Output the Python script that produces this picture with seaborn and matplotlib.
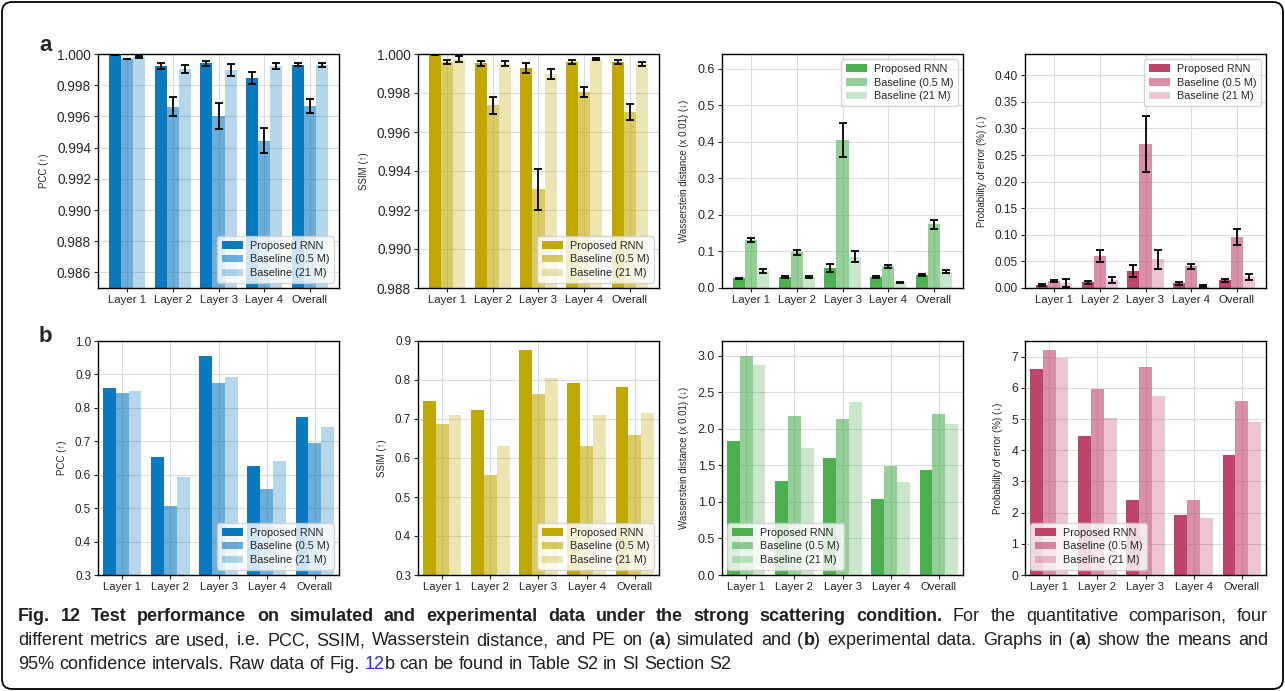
import numpy as np
import pandas as pd
import matplotlib
matplotlib.use('Agg')
import matplotlib.pyplot as plt
import seaborn as sns
from matplotlib import font_manager
from matplotlib.patches import FancyBboxPatch

layers = ['Layer 1', 'Layer 2', 'Layer 3', 'Layer 4', 'Overall']
models = ['Proposed RNN', 'Baseline (0.5 M)', 'Baseline (21 M)']

# (a) simulated data - means and 95% CI half widths, one row per model
sim_pcc = [[0.99993, 0.99923, 0.99940, 0.99847, 0.99930],
           [0.99968, 0.99662, 0.99604, 0.99445, 0.99668],
           [0.99981, 0.99902, 0.99898, 0.99923, 0.99930]]
sim_pcc_ci = [[0.00002, 0.00019, 0.00017, 0.00040, 0.00010],
              [0.00002, 0.00062, 0.00083, 0.00080, 0.00044],
              [0.00004, 0.00026, 0.00036, 0.00017, 0.00013]]

sim_ssim = [[0.99995, 0.99952, 0.99928, 0.99957, 0.99957],
            [0.99959, 0.99737, 0.99307, 0.99804, 0.99703],
            [0.99974, 0.99949, 0.99899, 0.99973, 0.99949]]
sim_ssim_ci = [[0.00001, 0.00012, 0.00025, 0.00010, 0.00010],
               [0.00009, 0.00044, 0.00105, 0.00025, 0.00040],
               [0.00017, 0.00013, 0.00026, 0.00005, 0.00010]]

sim_wd = [[0.026, 0.029, 0.054, 0.029, 0.035],
          [0.131, 0.098, 0.404, 0.060, 0.174],
          [0.047, 0.029, 0.085, 0.016, 0.045]]
sim_wd_ci = [[0.001, 0.003, 0.011, 0.003, 0.002],
             [0.005, 0.007, 0.046, 0.004, 0.012],
             [0.006, 0.003, 0.015, 0.001, 0.004]]

sim_pe = [[0.0050, 0.0106, 0.0320, 0.0090, 0.0144],
          [0.0125, 0.0607, 0.2710, 0.0410, 0.0964],
          [0.0090, 0.0150, 0.0540, 0.0045, 0.0206]]
sim_pe_ci = [[0.0020, 0.0030, 0.0110, 0.0030, 0.0030],
             [0.0020, 0.0110, 0.0525, 0.0045, 0.0150],
             [0.0075, 0.0050, 0.0180, 0.0020, 0.0050]]

# (b) experimental data
exp_pcc = [[0.859, 0.652, 0.955, 0.626, 0.772],
           [0.845, 0.506, 0.875, 0.556, 0.695],
           [0.850, 0.593, 0.891, 0.641, 0.744]]
exp_ssim = [[0.746, 0.723, 0.878, 0.792, 0.783],
            [0.688, 0.556, 0.763, 0.630, 0.659],
            [0.711, 0.632, 0.804, 0.709, 0.715]]
exp_wd = [[1.83, 1.29, 1.60, 1.04, 1.43],
          [3.00, 2.18, 2.14, 1.49, 2.20],
          [2.87, 1.73, 2.37, 1.27, 2.06]]
exp_pe = [[6.60, 4.45, 2.40, 1.92, 3.84],
          [7.22, 5.97, 6.68, 2.40, 5.57],
          [6.94, 5.02, 5.75, 1.82, 4.89]]

sns.set_style('ticks')
plt.rcParams['font.family'] = ['Liberation Sans', 'DejaVu Sans']

blue = '#0a79bd'
olive = '#c1a700'
green = '#4caf50'
pink = '#c0446a'
alphas = [1.0, 0.6, 0.3]


def bar_panel(ax, values, base, ylim, yticks, ylabel, loc, ysize, ci=None, fmt=None):
    df = pd.DataFrame({'layer': np.tile(layers, 3),
                       'model': np.repeat(models, 5),
                       'value': np.ravel(values)})
    sns.barplot(data=df, x='layer', y='value', hue='model',
                palette={m: base for m in models}, saturation=1,
                errorbar=None, linewidth=0, legend=False, ax=ax)
    bars = list(ax.containers)
    for cont, a in zip(bars, alphas):
        for p in cont:
            p.set_alpha(a)
    if ci is not None:
        for cont, v, e in zip(bars, values, ci):
            xs = [p.get_x() + p.get_width() / 2 for p in cont]
            ax.errorbar(xs, v, yerr=e, fmt='none', ecolor='black',
                        elinewidth=1.3, capsize=2.6, capthick=1.3, zorder=5)
    ax.set_ylim(*ylim)
    ax.set_yticks(yticks)
    if fmt:
        ax.set_yticklabels([fmt.format(t) for t in yticks])
    ax.set_xlabel('')
    ax.set_ylabel(ylabel, fontsize=7, labelpad=6)
    ax.grid(True, color='#dcdcdc', linewidth=0.8)
    ax.set_axisbelow(True)
    for s in ax.spines.values():
        s.set_visible(True)
        s.set_color('black')
        s.set_linewidth(1.0)
    ax.tick_params(axis='y', labelsize=ysize, length=3, width=0.8, pad=2)
    ax.tick_params(axis='x', labelsize=8.2, length=3, width=0.8, pad=2)
    ax.legend(bars, models, loc=loc, fontsize=7.8, handlelength=2.0,
              borderpad=0.4, labelspacing=0.35, handletextpad=0.6)


fig = plt.figure(figsize=(12.85, 6.91), dpi=100)
W, H = 1285, 691
lefts = [98, 418, 722, 1025]
pw = 241


def axes_at(left, top, bottom):
    return fig.add_axes([left / W, 1 - bottom / H, pw / W, (bottom - top) / H])


ax = [axes_at(l, 54, 288) for l in lefts] + [axes_at(l, 341, 575) for l in lefts]

bar_panel(ax[0], sim_pcc, blue, (0.985, 1.0), np.arange(0.986, 1.0001, 0.002),
          'PCC (↑)', 'lower right', 9.8, sim_pcc_ci, '{:.3f}')
bar_panel(ax[1], sim_ssim, olive, (0.988, 1.0), np.arange(0.988, 1.0001, 0.002),
          'SSIM (↑)', 'lower right', 9.8, sim_ssim_ci, '{:.3f}')
bar_panel(ax[2], sim_wd, green, (0, 0.64), np.arange(0, 0.61, 0.1),
          'Wasserstein distance (x 0.01) (↓)', 'upper right', 9, sim_wd_ci, '{:.1f}')
bar_panel(ax[3], sim_pe, pink, (0, 0.44), np.arange(0, 0.401, 0.05),
          'Probability of error (%) (↓)', 'upper right', 8.6, sim_pe_ci, '{:.2f}')
bar_panel(ax[4], exp_pcc, blue, (0.3, 1.0), np.arange(0.3, 1.01, 0.1),
          'PCC (↑)', 'lower right', 8.4, fmt='{:.1f}')
bar_panel(ax[5], exp_ssim, olive, (0.3, 0.9), np.arange(0.3, 0.91, 0.1),
          'SSIM (↑)', 'lower right', 8.4, fmt='{:.1f}')
bar_panel(ax[6], exp_wd, green, (0, 3.2), np.arange(0, 3.01, 0.5),
          'Wasserstein distance (x 0.01) (↓)', 'lower left', 9, fmt='{:.1f}')
bar_panel(ax[7], exp_pe, pink, (0, 7.5), np.arange(0, 8, 1),
          'Probability of error (%) (↓)', 'lower left', 8.8, fmt='{:.0f}')

fig.text(39 / W, 1 - 51 / H, 'a', fontsize=16, weight='bold', va='baseline')
fig.text(39 / W, 1 - 342 / H, 'b', fontsize=16, weight='bold', va='baseline')

# caption --------------------------------------------------------------
names = {f.name for f in font_manager.fontManager.ttflist}
cap_family = ['Liberation Sans Narrow', 'DejaVu Sans'] if 'Liberation Sans Narrow' in names \
    else ['Liberation Sans', 'DejaVu Sans']
cap_black = '#231f20'
cap_blue = '#2a2ad8'

caption = [
    ('*Fig. 12 Test performance on simulated and experimental data under the strong '
     'scattering condition.* For the quantitative comparison, four', 621, True),
    ('different metrics are used, i.e. PCC, SSIM, Wasserstein distance, and PE on (*a*) '
     'simulated and (*b*) experimental data. Graphs in (*a*) show the means and', 645, True),
    ('95% confidence intervals. Raw data of Fig. ^12^b can be found in Table S2 in SI Section S2',
     669, False),
]


def parse_words(line):
    words, bold, bl = [], False, False
    for raw in line.split(' '):
        pieces, buf = [], ''
        for ch in raw:
            if ch in '*^':
                if buf:
                    pieces.append((buf, bold, bl))
                    buf = ''
                if ch == '*':
                    bold = not bold
                else:
                    bl = not bl
            else:
                buf += ch
        if buf:
            pieces.append((buf, bold, bl))
        words.append(pieces)
    return words


renderer = fig.canvas.get_renderer()


def make(s, bold, bl, size, y):
    return fig.text(0, 1 - y / H, s, fontsize=size, family=cap_family,
                    weight='bold' if bold else 'normal',
                    color=cap_blue if bl else cap_black, va='baseline', ha='left')


def layout(line, y, size, justify, x0=18, x1=1268, dry=False):
    words = parse_words(line)
    arts = [[make(s, b, bl, size, y) for s, b, bl in w] for w in words]
    ww = [[t.get_window_extent(renderer).width for t in row] for row in arts]
    t1, t2 = make('a a', False, False, size, y), make('aa', False, False, size, y)
    space = t1.get_window_extent(renderer).width - t2.get_window_extent(renderer).width
    t1.remove()
    t2.remove()
    total = sum(sum(r) for r in ww)
    natural = total + space * (len(words) - 1)
    if dry:
        for row in arts:
            for t in row:
                t.remove()
        return natural
    gap = (x1 - x0 - total) / (len(words) - 1) if justify else space
    x = x0
    for row, wr in zip(arts, ww):
        for t, wd in zip(row, wr):
            t.set_x(x / W)
            x += wd
        x += gap
    return natural


base = 11.0
nat = layout(caption[0][0], caption[0][1], base, True, dry=True)
cap_size = min(13.0, base * 1250 / nat)
for text, y, just in caption:
    layout(text, y, cap_size, just)

border = FancyBboxPatch((0.02, 0.02), 12.81, 6.87,
                        boxstyle='round,pad=0,rounding_size=0.1',
                        transform=fig.dpi_scale_trans, fill=False,
                        edgecolor='black', linewidth=1.3)
fig.patches.append(border)

fig.savefig('out.png', dpi=100)
